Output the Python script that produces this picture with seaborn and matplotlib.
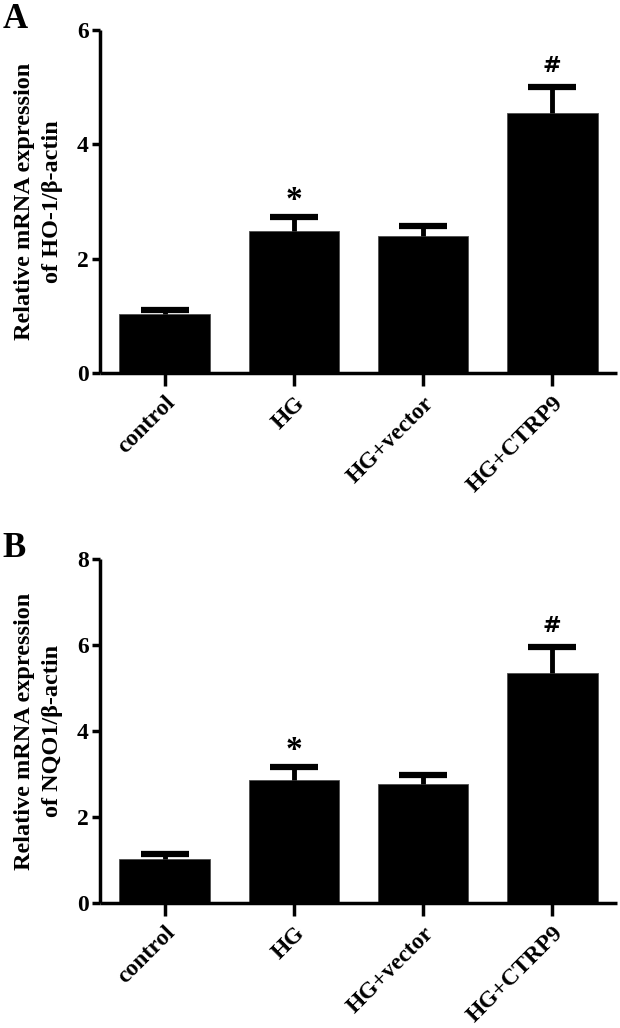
import matplotlib.pyplot as plt
import pandas as pd
import seaborn as sns

# values
groups = ["control", "HG", "HG+vector", "HG+CTRP9"]
ho1_mean = [1.03, 2.49, 2.39, 4.54]
ho1_err = [0.08, 0.24, 0.18, 0.47]
nqo1_mean = [1.03, 2.87, 2.76, 5.36]
nqo1_err = [0.11, 0.30, 0.22, 0.60]
marks = ["", "*", "", "#"]

ylabels = ["Relative mRNA expression\nof HO-1/\u03b2-actin",
           "Relative mRNA expression\nof NQO1/\u03b2-actin"]
yticks = [[0, 2, 4, 6], [0, 2, 4, 6, 8]]
panel_letters = ["A", "B"]

FONT = "Liberation Serif"
LW = 2.5

sns.set_theme(style="ticks")
plt.rcParams["font.family"] = [FONT, "DejaVu Serif"]
plt.rcParams["font.weight"] = "bold"
plt.rcParams["text.color"] = "black"
plt.rcParams["axes.labelcolor"] = "black"
plt.rcParams["xtick.color"] = "black"
plt.rcParams["ytick.color"] = "black"
plt.rcParams["axes.edgecolor"] = "black"

fig = plt.figure(figsize=(6.2, 10.28), dpi=100)
ax_a = fig.add_axes([0.1613, 0.6372, 0.8337, 0.3336])
ax_b = fig.add_axes([0.1613, 0.1216, 0.8337, 0.3346])


def draw_panel(ax, means, errs, ylabel, ticks, letter):
    df = pd.DataFrame({"group": groups, "value": means})
    sns.barplot(data=df, x="group", y="value", color="black", width=0.7,
                saturation=1, errorbar=None, edgecolor="0.3", linewidth=0.6,
                ax=ax)
    xs = list(range(len(groups)))
    _, caps, _ = ax.errorbar(xs, means, yerr=[[0] * len(errs), errs],
                             fmt="none", ecolor="black", elinewidth=3.5,
                             capsize=17, capthick=4.5, zorder=3)
    caps[0].set_visible(False)  # only the upper cap
    ymax = ticks[-1]
    for x, m, e, s in zip(xs, means, errs, marks):
        if s == "*":
            ax.text(x, m + e + 0.002 * ymax, s, ha="center", va="bottom",
                    fontsize=24, fontweight="bold")
        elif s == "#":
            ax.text(x, m + e + 0.03 * ymax, s, ha="center", va="bottom",
                    fontsize=16, fontweight="bold", family="DejaVu Sans")
    ax.set_xlim(-0.5, len(groups) - 0.5)
    ax.set_ylim(0, ymax)
    ax.set_yticks(ticks)
    ax.set_xlabel("")
    ax.set_ylabel(ylabel, fontsize=17.5, fontweight="bold", linespacing=1.45,
                  labelpad=10)
    sns.despine(ax=ax)
    for sp in ["left", "bottom"]:
        ax.spines[sp].set_linewidth(LW)
        ax.spines[sp].set_capstyle("butt")
    ax.tick_params(axis="y", length=6, width=LW, labelsize=17, pad=2)
    ax.tick_params(axis="x", length=9, width=LW, labelsize=17, pad=5)
    for lab in ax.get_xticklabels():
        lab.set_rotation(45)
        lab.set_ha("right")
        lab.set_rotation_mode("anchor")
        lab.set_fontweight("bold")
    for lab in ax.get_yticklabels():
        lab.set_fontweight("bold")
    fig.text(0.004, ax.get_position().y1 + 0.01, letter, fontsize=25,
             fontweight="bold", ha="left", va="center")


draw_panel(ax_a, ho1_mean, ho1_err, ylabels[0], yticks[0], panel_letters[0])
draw_panel(ax_b, nqo1_mean, nqo1_err, ylabels[1], yticks[1], panel_letters[1])

fig.savefig("out.png", dpi=100, facecolor="white")
